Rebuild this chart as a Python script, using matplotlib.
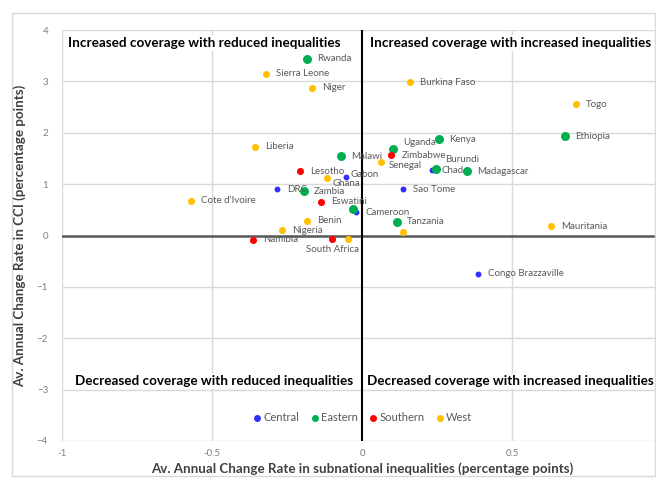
import matplotlib
matplotlib.use("Agg")
import matplotlib.pyplot as plt
from matplotlib.patches import Rectangle
from matplotlib.lines import Line2D

plt.rcParams['font.family'] = ['Lato', 'DejaVu Sans']

# data, one set of lists per region
central_names = ['Gabon', 'DRC', 'Cameroon', 'Chad', 'Sao Tome', 'Congo Brazzaville']
central_x = [-0.053, -0.283, -0.02, 0.233, 0.137, 0.387]
central_y = [1.13, 0.90, 0.45, 1.27, 0.90, -0.74]

eastern_names = ['Rwanda', 'Ethiopia', 'Kenya', 'Uganda', 'Burundi', 'Madagascar',
                 'Malawi', 'Zambia', '', 'Tanzania']
eastern_x = [-0.183, 0.677, 0.257, 0.103, 0.247, 0.35, -0.07, -0.193, -0.03, 0.117]
eastern_y = [3.445, 1.93, 1.87, 1.69, 1.30, 1.25, 1.54, 0.86, 0.51, 0.27]

southern_names = ['Zimbabwe', 'Lesotho', 'Eswatini', 'Namibia', 'South Africa']
southern_x = [0.097, -0.207, -0.137, -0.363, -0.10]
southern_y = [1.56, 1.25, 0.66, -0.08, -0.06]

west_names = ['Sierra Leone', 'Niger', 'Burkina Faso', 'Togo', 'Senegal', 'Liberia',
              'Ghana', "Cote d'Ivoire", 'Benin', 'Nigeria', '', '', 'Mauritania']
west_x = [-0.32, -0.167, 0.16, 0.713, 0.063, -0.357, -0.117, -0.57, -0.183,
          -0.267, 0.137, -0.047, 0.63]
west_y = [3.153, 2.88, 2.98, 2.55, 1.44, 1.73, 1.11, 0.68, 0.29, 0.10, 0.06, -0.06, 0.18]

# label nudges (pixels) where the default right-hand placement differs
nudge = {'Ghana': (6, -5), 'Burundi': (9, 9), 'Gabon': (4, 3), 'Uganda': (10, 6),
         'Senegal': (8, -4), 'Zimbabwe': (11, 0), 'South Africa': (0, -11)}

groups = [
    ('Central', '#2f2fff', 18, central_names, central_x, central_y),
    ('Eastern', '#00b050', 42, eastern_names, eastern_x, eastern_y),
    ('Southern', '#ff0000', 26, southern_names, southern_x, southern_y),
    ('West', '#ffc000', 26, west_names, west_x, west_y),
]

fig = plt.figure(figsize=(6.56, 4.78), dpi=100)
ax = fig.add_axes([62/656, 1 - 441/478, (656 - 62)/656, 411/478])

# outer chart frame
fig.patches.append(Rectangle((12/656, 1 - 476/478), 643/656, 463/478,
                             transform=fig.transFigure, fill=False,
                             edgecolor='#d9d9d9', linewidth=1))

for yv in range(-4, 5):
    ax.axhline(yv, color='#d9d9d9', linewidth=1, zorder=0)
for xv in [-1, -0.5, 0.5]:
    ax.axvline(xv, color='#d9d9d9', linewidth=1, zorder=0)
ax.axhline(0, color='#595959', linewidth=1.8, zorder=1)
ax.axvline(0, color='black', linewidth=1.5, zorder=1)

for name, col, size, names, xs, ys in groups:
    ax.scatter(xs, ys, s=size, color=col, zorder=3, linewidths=0)
    for n, xv, yv in zip(names, xs, ys):
        if not n:
            continue
        dx, dy = nudge.get(n, (10, 0))
        ax.annotate(n, (xv, yv), xytext=(dx, dy), textcoords='offset pixels',
                    ha='center' if n == 'South Africa' else 'left', va='center',
                    fontsize=7, color='#595959', zorder=4)

box = dict(facecolor='white', edgecolor='none', pad=1.5)
qfont = 9.7
ax.text(-0.98, 3.755, 'Increased coverage with reduced inequalities', fontsize=qfont,
        fontweight='bold', va='center', ha='left', bbox=box, zorder=5)
ax.text(0.027, 3.755, 'Increased coverage with increased inequalities', fontsize=qfont,
        fontweight='bold', va='center', ha='left', bbox=box, zorder=5)
ax.text(-0.957, -2.84, 'Decreased coverage with reduced inequalities', fontsize=qfont,
        fontweight='bold', va='center', ha='left', bbox=box, zorder=5)
ax.text(0.017, -2.84, 'Decreased coverage with increased inequalities', fontsize=qfont,
        fontweight='bold', va='center', ha='left', bbox=box, zorder=5)

handles = [Line2D([], [], marker='o', linestyle='', color=g[1], markersize=4) for g in groups]
ax.legend(handles, [g[0] for g in groups], loc='center', bbox_to_anchor=(0.505, 0.056),
          ncol=4, frameon=False, fontsize=8, handletextpad=0.05, columnspacing=0.9,
          labelcolor='#595959', handlelength=1)

ax.set_xlim(-1, 0.98)
ax.set_ylim(-4, 4)
ax.set_xticks([-1, -0.5, 0, 0.5])
ax.set_xticklabels(['-1', '-0.5', '0', '0.5'])
ax.set_yticks(range(-4, 5))
ax.tick_params(length=0, labelsize=7, colors='#7f7f7f')
ax.tick_params(axis='y', pad=10)
ax.tick_params(axis='x', pad=6)
for sp in ax.spines.values():
    sp.set_visible(False)

fig.text(362/656, 1 - 469/478, 'Av. Annual Change Rate in subnational inequalities (percentage points)',
         ha='center', va='center', fontsize=9.6, fontweight='bold', color='#404040')
fig.text(20/656, 1 - 236/478, 'Av. Annual Change Rate in CCI (percentage points)',
         ha='center', va='center', rotation=90, fontsize=9.6, fontweight='bold', color='#404040')

fig.savefig('out.png', dpi=100)
